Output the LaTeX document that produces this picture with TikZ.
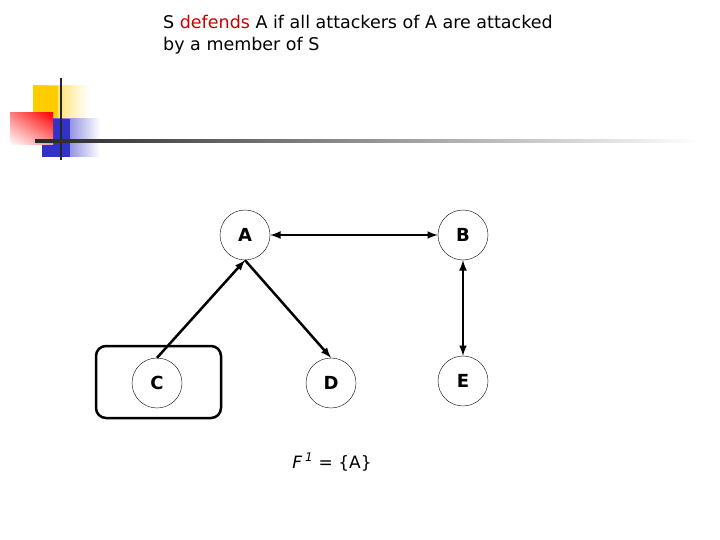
\documentclass[tikz,border=0pt]{standalone}
\usepackage{fontspec}
\setmainfont{DejaVu Sans}
\usetikzlibrary{shadings}
\definecolor{dyel}{RGB}{255,204,0}
\definecolor{dblu}{RGB}{50,50,200}
\begin{document}
\begin{tikzpicture}[x=1pt,y=-1pt,
  arg/.style={circle,draw,thin,minimum size=50pt,inner sep=0pt,font=\bfseries\fontsize{18}{20}\selectfont},
  att/.style={line width=2.5pt,-latex}]
\useasboundingbox (0,0) rectangle (720,540);
% decoration
\shade[left color=dyel,right color=white] (33,86) rectangle (88,118);
\fill[dyel] (33,86) rectangle (58,118);
\shade[left color=dblu,right color=white] (42,119) rectangle (100,157);
\fill[dblu] (42,119) rectangle (70,157);
\shade[upper right=red,lower left=white,upper left=red!50!white,lower right=red!40!white] (10,113) rectangle (53,145);
\draw[line width=2.5pt,black!85] (61,78) -- (61,160);
\shade[left color=black!85,right color=white] (35,139.8) rectangle (700,142.2);
% title
\node[anchor=west,font=\fontsize{17.5}{20}\selectfont,inner sep=0pt] (t1) at (163,22) {S \textcolor{red!80!black}{defends} A if all attackers of A are attacked};
\node[anchor=west,font=\fontsize{17.5}{20}\selectfont,inner sep=0pt] (t2) at (163,46) {by a member of S};
% box
\draw[line width=2.5pt,rounded corners=10pt] (96,346) rectangle (221,418);
\node[arg] (A) at (245,235) {A};
\node[arg] (B) at (463,235) {B};
\node[arg] (C) at (157,383) {C};
\node[arg] (D) at (331,383) {D};
\node[arg] (E) at (463,381) {E};
\draw[att,latex-latex] (A) -- (B);
\draw[att,latex-latex] (B) -- (E);
\draw[att] (C.north) -- (A.south);
\draw[att] (A.south) -- (D.north);
\node[font=\fontsize{17}{20}\selectfont] (F) at (332,462) {\textit{F}\,\textsuperscript{\textit{1}} = \{A\}};
\end{tikzpicture}
\end{document}
